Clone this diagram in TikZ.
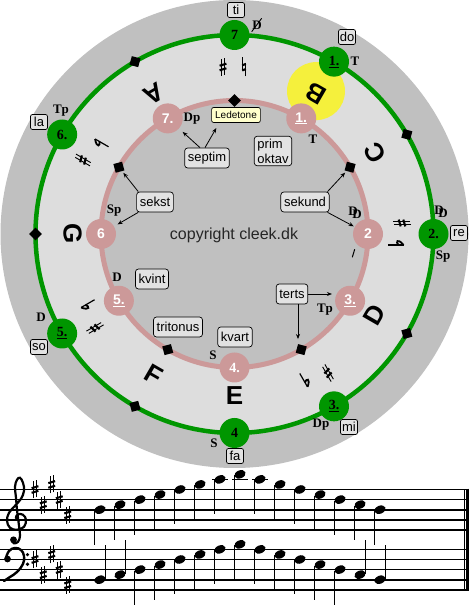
\documentclass[tikz,border=0pt]{standalone}
\usepackage{fontspec}
\setmainfont{Liberation Serif}
\setsansfont{Liberation Sans}
\usetikzlibrary{arrows.meta,calc}
\definecolor{bggray}{RGB}{192,192,192}
\definecolor{ringgray}{RGB}{221,221,221}
\definecolor{gcol}{RGB}{0,150,0}
\definecolor{pcol}{RGB}{204,153,153}
\definecolor{boxfill}{RGB}{226,226,226}
\definecolor{ledfill}{RGB}{255,255,204}
\definecolor{yel}{RGB}{245,240,60}
\tikzset{
 sharpsign/.pic={\draw[line width=0.9pt] (-1.6,-9)--(-1.6,8) (1.6,-8)--(1.6,9); \draw[line width=2.1pt] (-3.4,-3.3)--(3.4,-1.3) (-3.4,1.3)--(3.4,3.3);},
 flatsign/.pic={\draw[line width=1.2pt] (-2,-4.5)--(-2,11); \draw[line width=1.8pt] (-2,0.5) .. controls (1,3.8) and (5.5,1.5) .. (-2,-4.5);},
 naturalsign/.pic={\draw[line width=0.9pt] (-1.8,-3.5)--(-1.8,9.5) (1.8,-9.5)--(1.8,3.5); \draw[line width=2.1pt] (-1.8,-3.5)--(1.8,-2) (-1.8,1.6)--(1.8,3.1);}
}
\begin{document}
\begin{tikzpicture}[x=1pt,y=1pt,
  gnode/.style={circle, fill=gcol, minimum size=30pt, inner sep=0pt, font=\bfseries\fontsize{14}{14}\selectfont},
  pnode/.style={circle, fill=pcol, minimum size=30pt, inner sep=0pt, text=white, font=\sffamily\bfseries\fontsize{14}{14}\selectfont},
  dia/.style={rectangle, fill=black, minimum size=9pt, inner sep=0pt},
  letter/.style={font=\sffamily\bfseries\fontsize{26}{26}\selectfont, inner sep=0pt},
  fn/.style={font=\bfseries\fontsize{13}{13}\selectfont, inner sep=0pt},
  solf/.style={draw, line width=0.7pt, rounded corners=2pt, fill=boxfill, font=\sffamily\fontsize{13}{13}\selectfont, minimum width=17pt, minimum height=15pt, inner sep=1pt},
  ibox/.style={draw, line width=0.7pt, rounded corners=3pt, fill=boxfill, font=\sffamily\fontsize{13}{13}\selectfont, inner xsep=3.2pt, inner ysep=0pt, minimum height=20pt},
  arr/.style={-{Stealth[length=5pt,width=4pt]}, line width=0.8pt},
  staffline/.style={line width=1.7pt},
  stem/.style={line width=1.2pt},
]
\useasboundingbox (0,0) rectangle (469,615);
\fill[white] (0,0) rectangle (469,615);
\coordinate (C) at (234.5,381);
% discs and rings
\fill[bggray] (C) circle (234);
\fill[ringgray] (C) circle (199);
\fill[bggray] (C) circle (133.5);
\draw[gcol, line width=4.5pt] (C) circle (199);
\draw[pcol, line width=5pt] (C) circle (133.5);
\fill[yel] ($(C)+(60.3:164.5)$) circle (29);
% letters
\foreach \l/\a in {B/60,C/30,D/-30,E/-90,F/-120,G/180,A/120}
  \node[letter, rotate=\a+90] (L\l) at ($(C)+(\a:162)$) {\l};
% green nodes
\node[gnode] (g7) at ($(C)+(90:199)$) {7};
\node[gnode] (g1) at ($(C)+(60:199)$) {\underline{1.}};
\node[gnode] (g2) at ($(C)+(0:199)$) {2.};
\node[gnode] (g3) at ($(C)+(-60:199)$) {\underline{3.}};
\node[gnode] (g4) at ($(C)+(-90:199)$) {4};
\node[gnode] (g5) at ($(C)+(-150:199)$) {\underline{5.}};
\node[gnode] (g6) at ($(C)+(150:199)$) {6.};
\foreach \a/\n in {120/a,30/b,-30/c,-120/d,180/e}
  \node[dia, rotate=\a+45] (gd\n) at ($(C)+(\a:199)$) {};
% pink nodes
\node[pnode] (p1) at ($(C)+(60:133.5)$) {\underline{1.}};
\node[pnode] (p2) at ($(C)+(0:133.5)$) {2};
\node[pnode] (p3) at ($(C)+(-30:133.5)$) {\underline{3.}};
\node[pnode, font=\bfseries\fontsize{14}{14}\selectfont] (p4) at ($(C)+(-90:133.5)$) {4.};
\node[pnode] (p5) at ($(C)+(-150:133.5)$) {\underline{5.}};
\node[pnode] (p6) at ($(C)+(180:133.5)$) {6};
\node[pnode] (p7) at ($(C)+(120:133.5)$) {7.};
\node[dia, rotate=135] (pdtop) at ($(C)+(90:133.5)$) {};
\node[dia, rotate=75] (pd30) at ($(C)+(30:133.5)$) {};
\node[dia, rotate=-15] (pdm60) at ($(C)+(-60:133.5)$) {};
\node[dia, rotate=-75] (pdm120) at ($(C)+(-120:133.5)$) {};
\node[dia, rotate=195] (pd150) at ($(C)+(150:133.5)$) {};
% accidentals in the ring
\pic at (223,548) {sharpsign};
\pic at (244,548) {naturalsign};
\pic[rotate=90] at (402,392) {sharpsign};
\pic[rotate=90] at (399,372) {flatsign};
\pic[rotate=30] at (328,242) {sharpsign};
\pic[rotate=30] at (307,233) {flatsign};
\pic[rotate=-60] at (95,287) {sharpsign};
\pic[rotate=-60] at (86,308) {flatsign};
\pic[rotate=-120] at (83,455) {sharpsign};
\pic[rotate=-120] at (98,472) {flatsign};
\draw[line width=1pt] (354.7,365.7) -- (352.3,357.7);
% function labels, green ring
\node[fn] (fD7) at (257,590) {D};
\draw[line width=0.9pt] ($(fD7.center)+(-5.3,-6.7)$) -- ($(fD7.center)+(4.7,6.7)$);
\node[fn] (fT1) at (355,554) {T};
\node[fn] (fDD2) at (441,403) {\rlap{D}\kern4pt\raisebox{-3pt}{D}};
\node[fn] (fSp2) at (443,358) {Sp};
\node[fn] (fDp3) at (321,190) {Dp};
\node[fn] (fS4) at (214,172) {S};
\node[fn] (fD5) at (41,298) {D};
\node[fn] (fTp6) at (61,504) {Tp};
% function labels, pink ring
\node[fn] (qT1) at (313,476) {T};
\node[fn] (qDp7) at (192,496) {Dp};
\node[fn] (qDD2) at (355,402) {\rlap{D}\kern4pt\raisebox{-3pt}{D}};
\node[fn] (qTp3) at (325,305) {Tp};
\node[fn] (qS4) at (213,260) {S};
\node[fn] (qD5) at (117,338) {D};
\node[fn] (qSp6) at (114,404) {Sp};
% solfege boxes
\node[solf] (ti) at (236,605) {ti};
\node[solf] (do) at (347,578) {do};
\node[solf] (re) at (459,382) {re};
\node[solf] (mi) at (349,188) {mi};
\node[solf] (fa) at (235,159) {fa};
\node[solf] (so) at (39,268) {so};
\node[solf] (la) at (39,493) {la};
% interval boxes
\node[ibox, align=left, inner ysep=2.5pt, font=\sffamily\fontsize{13}{15}\selectfont] (prim) at (273,464) {prim\\oktav};
\node[ibox] (septim) at (207,457) {septim};
\node[ibox, fill=ledfill, rounded corners=2pt, minimum height=15pt, inner xsep=3.5pt, font=\sffamily\fontsize{10}{10}\selectfont] (ledetone) at (236,500) {Ledetone};
\node[ibox] (sekst) at (155,413) {sekst};
\node[ibox] (sekund) at (305,413) {sekund};
\node[ibox] (kvint) at (152,336) {kvint};
\node[ibox] (tritonus) at (178,288) {tritonus};
\node[ibox] (kvart) at (235,278) {kvart};
\node[ibox] (terts) at (292,321) {terts};
\node[font=\sffamily\fontsize{16}{16}\selectfont, text=black!85] (copy) at (234,380) {copyright cleek.dk};
% arrows
\draw[arr, shorten >=5pt] ([xshift=-7pt]septim.north) -- (p7);
\draw[arr, shorten >=6pt] ([xshift=-2pt]septim.north) -- ([xshift=8pt]ledetone.south west);
\draw[arr, shorten >=2pt] ([xshift=2pt]sekst.north west) -- (pd150);
\draw[arr, shorten >=4pt] ([xshift=2pt]sekst.south west) -- (p6);
\draw[arr, shorten >=2pt] ([xshift=-2pt]sekund.north east) -- (pd30);
\draw[arr, shorten >=1pt] ([xshift=-2pt]sekund.south east) -- (p2);
\draw[arr, shorten >=3pt] (terts.east) -- (terts.east -| p3.west);
\draw[arr, shorten >=6pt] ($(terts.south)+(6,0)$) -- ($(terts.south|-pdm60.north)+(6,0)$);
% staves
\foreach \j in {0,...,4} {
  \draw[staffline] (0,85.1+10.1*\j) -- (469,85.1+10.1*\j);
  \draw[staffline] (0,25.2+10.1*\j) -- (469,25.2+10.1*\j);
}
\draw[line width=1pt] (464.5,125.5) -- (464.5,25.2);
\draw[line width=3pt] (467.5,126.35) -- (467.5,24.35);
% treble clef
\begin{scope}[shift={(17,95.2)}]
\draw[line width=2.2pt, line cap=round] plot[smooth, tension=0.65] coordinates {(2,-1) (-1,2) (1,5.5) (6,5) (9,0) (7,-7) (0,-10) (-7,-8) (-10,-1) (-8,7) (-2,14) (4,21) (7,29) (6,37) (3,42) (0,40) (-2,33) (-1,22) (0,10) (2,-6) (3,-16) (1,-22) (-3,-23.5) (-5,-21)};
\fill (-3.5,-20) circle (3.4);
\end{scope}
% bass clef
\draw[line width=2.4pt, line cap=round] plot[smooth, tension=0.7] coordinates {(6,57) (9,64) (15,67) (21,65) (24,59) (23,51) (17,43) (10,38) (4,34)};
\fill (7.5,56) circle (3.4);
\fill (27.5,60.3) circle (1.8);
\fill (27.5,50.7) circle (1.8);
% key signatures
\foreach \x/\k in {35/8,43.3/5,51.7/9,59.3/6,67.7/3}
  \pic at (\x,85.1+5.05*\k) {sharpsign};
\foreach \x/\k in {35/6,43.3/3,51.7/7,59.3/4,67.7/1}
  \pic at (\x,25.2+5.05*\k) {sharpsign};
% ledger lines
\foreach \x in {220,240,260}
  \draw[staffline] (\x-8,135.6) -- (\x+8,135.6);
% treble notes
\foreach \k [count=\i from 0] in {4,5,6,7,8,9,10,11,10,9,8,7,6,5,4} {
  \pgfmathsetmacro\nx{100+20*\i}
  \pgfmathsetmacro\ny{85.1+5.05*\k}
  \fill[rotate around={22:(\nx,\ny)}] (\nx,\ny) ellipse [x radius=5.8, y radius=4];
  \draw[stem] (\nx-5.2,\ny-1) -- (\nx-5.2,\ny-35);
}
% bass notes
\foreach \k [count=\i from 0] in {2,3,4,5,6,7,8,9,8,7,6,5,4,3,2} {
  \pgfmathsetmacro\nx{100+20*\i}
  \pgfmathsetmacro\ny{25.2+5.05*\k}
  \fill[rotate around={22:(\nx,\ny)}] (\nx,\ny) ellipse [x radius=5.8, y radius=4];
  \ifnum\k<4
    \draw[stem] (\nx+5.2,\ny+1) -- (\nx+5.2,\ny+35);
  \else
    \draw[stem] (\nx-5.2,\ny-1) -- (\nx-5.2,\ny-35);
  \fi
}
\end{tikzpicture}
\end{document}
